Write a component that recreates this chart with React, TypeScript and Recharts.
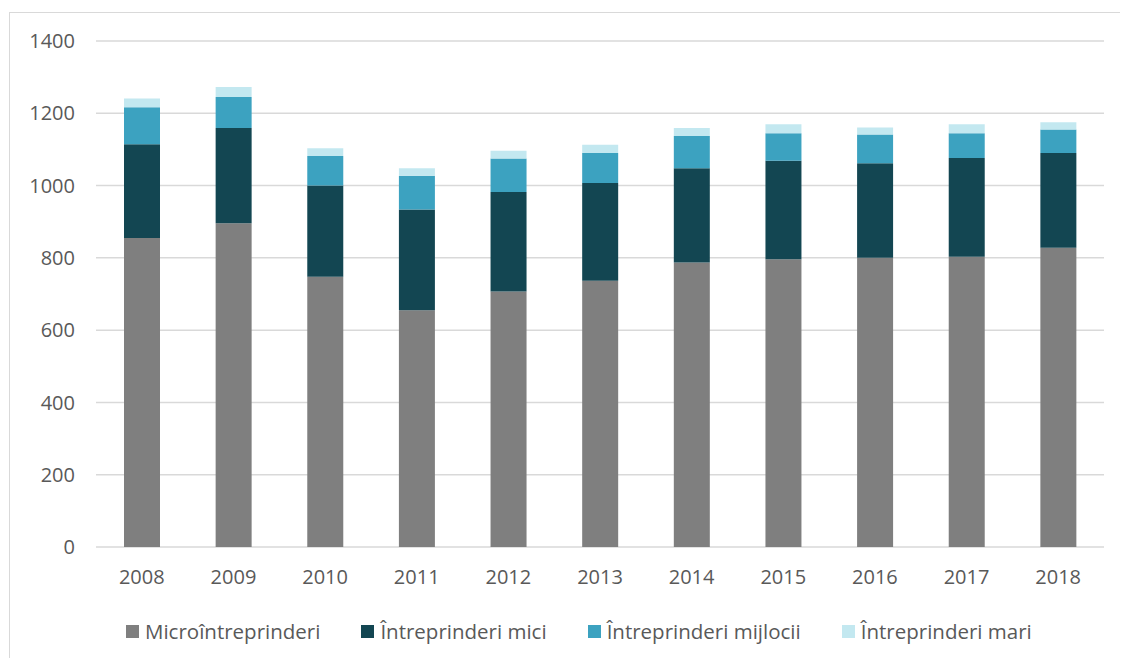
import React from 'react';
import {
  BarChart,
  Bar,
  XAxis,
  YAxis,
  CartesianGrid,
  Legend
} from 'recharts';

const years = ['2008', '2009', '2010', '2011', '2012', '2013', '2014', '2015', '2016', '2017', '2018'];
const micro = [855, 896, 748, 655, 707, 737, 787, 796, 800, 803, 828];
const mici = [259, 263, 252, 279, 275, 270, 261, 273, 262, 273, 262];
const mijlocii = [103, 86, 82, 93, 93, 83, 89, 76, 79, 69, 65];
const mari = [24, 28, 21, 21, 21, 23, 22, 25, 20, 25, 20];
const yTicks = [0, 200, 400, 600, 800, 1000, 1200, 1400];
const seriesOrder = ['micro', 'mici', 'mijlocii', 'mari'];

const data = years.map((year, i) => ({
  year,
  micro: micro[i],
  mici: mici[i],
  mijlocii: mijlocii[i],
  mari: mari[i]
}));

const FONT = '"Open Sans", sans-serif';
const TEXT = '#595959';

const LegendBox = ({ payload }: any) => {
  const items = [...(payload || [])].sort(
    (a: any, b: any) => seriesOrder.indexOf(a.dataKey) - seriesOrder.indexOf(b.dataKey)
  );
  return (
    <div style={{ display: 'flex', alignItems: 'center', fontFamily: FONT, fontSize: 20.5, color: TEXT }}>
      {items.map((p: any, i: number) => (
        <div key={i} style={{ display: 'flex', alignItems: 'center', marginRight: 41 }}>
          <span style={{ width: 13, height: 13, background: p.color, display: 'inline-block', marginRight: 6 }} />
          <span>{p.value}</span>
        </div>
      ))}
    </div>
  );
};

export default function App() {
  return (
    <div style={{ position: 'relative', width: 1120, height: 650 }}>
      <div
        style={{
          position: 'absolute',
          left: 1,
          top: 4,
          width: 1119,
          height: 646,
          borderLeft: '1px solid #d9d9d9',
          borderTop: '1px solid #d9d9d9'
        }}
      />
      <BarChart
        width={1120}
        height={650}
        data={data}
        margin={{ top: 33, right: 24, bottom: 53, left: 0 }}
        barSize={36}
        style={{ position: 'absolute', left: 0, top: 0 }}
      >
        <CartesianGrid vertical={false} stroke="#d9d9d9" strokeWidth={1.5} />
        <XAxis
          dataKey="year"
          axisLine={false}
          tickLine={false}
          tickSize={0}
          tickMargin={23}
          tick={{ fill: TEXT, fontSize: 20, fontFamily: FONT }}
        />
        <YAxis
          width={88}
          domain={[0, 1400]}
          ticks={yTicks}
          axisLine={false}
          tickLine={false}
          tickSize={0}
          tickMargin={21}
          tick={{ fill: TEXT, fontSize: 20, fontFamily: FONT }}
        />
        <Legend
          content={<LegendBox />}
          wrapperStyle={{ left: 118, top: 609, width: 'auto' }}
        />
        <Bar dataKey="micro" name="Microîntreprinderi" stackId="a" fill="#7f7f7f" isAnimationActive={false} />
        <Bar dataKey="mici" name="Întreprinderi mici" stackId="a" fill="#134652" isAnimationActive={false} />
        <Bar dataKey="mijlocii" name="Întreprinderi mijlocii" stackId="a" fill="#3ca2c0" isAnimationActive={false} />
        <Bar dataKey="mari" name="Întreprinderi mari" stackId="a" fill="#c3e8f0" isAnimationActive={false} />
      </BarChart>
    </div>
  );
}
